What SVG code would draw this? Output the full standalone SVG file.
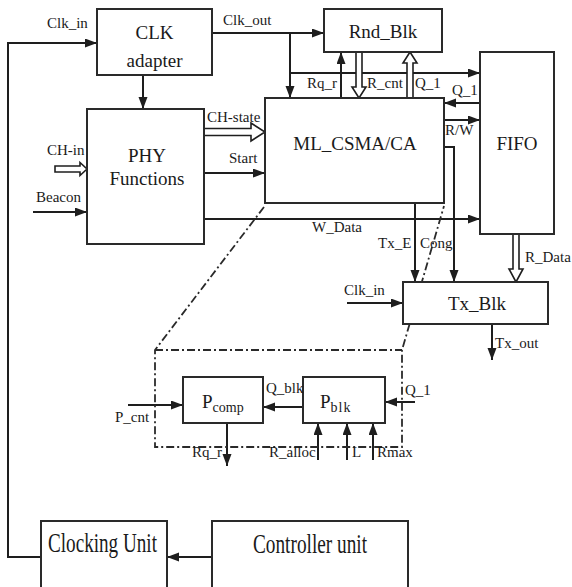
<svg xmlns="http://www.w3.org/2000/svg" width="572" height="587" viewBox="0 0 572 587">
<style>
.box{fill:#fff;stroke:#2a2a2a;stroke-width:2}
.ln{fill:none;stroke:#1e1e1e;stroke-width:2}
.hol{fill:#fff;stroke:#1e1e1e;stroke-width:1.6;stroke-linejoin:miter}
.dd{fill:none;stroke:#2a2a2a;stroke-width:1.8;stroke-dasharray:8,3,2,3}
text{font-family:"Liberation Serif","Times New Roman",serif;fill:#1a1a1a}
.lb{font-size:15px}
.big{font-size:19px}
.huge{font-size:28px}
</style>
<defs>
<marker id="ah" markerUnits="userSpaceOnUse" markerWidth="13" markerHeight="10" refX="12" refY="4.5" orient="auto">
<path d="M0,0 L12,4.5 L0,9 z" fill="#1e1e1e"/>
</marker>
</defs>
<g id="connectors">
<path class="ln" d="M41,557 H8 V43 H97" marker-end="url(#ah)"/>
<path class="ln" d="M212,33 H324" marker-end="url(#ah)"/>
<path class="ln" d="M290,33 V98" marker-end="url(#ah)"/>
<path class="ln" d="M290,73 H480" marker-end="url(#ah)"/>
<path class="ln" d="M143,75 V109" marker-end="url(#ah)"/>
<path class="ln" d="M341,98 V52" marker-end="url(#ah)"/>
<polygon class="hol" points="356,52 362,52 362,87 366,87 359,98 352,87 356,87"/>
<polygon class="hol" points="407,98 413,98 413,63 417,63 410,52 403,63 407,63"/>
<path class="ln" d="M480,103 H444" marker-end="url(#ah)"/>
<path class="ln" d="M444,120 H480" marker-end="url(#ah)"/>
<path class="ln" d="M444,147 H454 V282" marker-end="url(#ah)"/>
<path class="ln" d="M415,203 V282" marker-end="url(#ah)"/>
<path class="ln" d="M204,219 H480" marker-end="url(#ah)"/>
<polygon class="hol" points="513,234 519,234 519,269 523,269 516,282 509,269 513,269"/>
<path class="ln" d="M347,303 H403" marker-end="url(#ah)"/>
<path class="ln" d="M492,324 V360" marker-end="url(#ah)"/>
<polygon class="hol" points="204,128.5 251,128.5 251,123 265,132 251,141 251,135.5 204,135.5"/>
<path class="ln" d="M204,173 H265" marker-end="url(#ah)"/>
<polygon class="hol" points="55,166 80,166 80,162.5 87,169 80,175.5 80,172 55,172"/>
<path class="ln" d="M33,212 H87" marker-end="url(#ah)"/>
<path class="ln" d="M212,557 H167" marker-end="url(#ah)"/>
<path class="ln" d="M128,405 H183" marker-end="url(#ah)"/>
<path class="ln" d="M303,407 H263" marker-end="url(#ah)"/>
<path class="ln" d="M415,402 H385" marker-end="url(#ah)"/>
<path class="ln" d="M227,423 V466" marker-end="url(#ah)"/>
<path class="ln" d="M318,460 V423" marker-end="url(#ah)"/>
<path class="ln" d="M347,460 V423" marker-end="url(#ah)"/>
<path class="ln" d="M373,460 V423" marker-end="url(#ah)"/>
<path class="dd" d="M264,207 L155,350 V447 H402 V350 L444,206"/>
<path class="dd" d="M155,350 H402"/>
</g>
<g id="clk_adapter">
<rect class="box" x="97" y="9" width="115" height="66"/>
<text class="big" x="154.5" y="39" text-anchor="middle">CLK</text>
<text class="big" x="154.5" y="67" text-anchor="middle">adapter</text>
</g>
<g id="rnd_blk">
<rect class="box" x="324" y="9" width="118" height="43"/>
<text class="big" x="383" y="38" text-anchor="middle">Rnd_Blk</text>
</g>
<g id="phy">
<rect class="box" x="87" y="109" width="117" height="135"/>
<text class="big" x="147" y="162" text-anchor="middle">PHY</text>
<text class="big" x="147" y="185" text-anchor="middle">Functions</text>
</g>
<g id="ml_csma">
<rect class="box" x="265" y="98" width="179" height="105"/>
<text class="big" x="355" y="150" text-anchor="middle">ML_CSMA/CA</text>
</g>
<g id="fifo">
<rect class="box" x="480" y="52" width="74" height="182"/>
<text class="big" x="517" y="150" text-anchor="middle">FIFO</text>
</g>
<g id="tx_blk">
<rect class="box" x="403" y="282" width="145" height="42"/>
<text class="big" x="477" y="310" text-anchor="middle">Tx_Blk</text>
</g>
<g id="p_comp">
<rect class="box" x="183" y="377" width="80" height="46"/>
<text class="big" x="202" y="408">P<tspan font-size="14" dy="4">comp</tspan></text>
</g>
<g id="p_blk">
<rect class="box" x="303" y="377" width="82" height="46"/>
<text class="big" x="320" y="408">P<tspan font-size="14" dy="4" letter-spacing="1">blk</tspan></text>
</g>
<g id="clocking_unit">
<rect class="box" x="41" y="521" width="126" height="90"/>
<text class="huge" x="102.5" y="552" text-anchor="middle" textLength="109" lengthAdjust="spacingAndGlyphs">Clocking Unit</text>
</g>
<g id="controller_unit">
<rect class="box" x="212" y="521" width="196" height="90"/>
<text class="huge" x="310" y="553" text-anchor="middle" textLength="114" lengthAdjust="spacingAndGlyphs">Controller unit</text>
</g>
<g id="labels">
<text class="lb" x="47" y="28">Clk_in</text>
<text class="lb" x="223" y="25">Clk_out</text>
<text class="lb" x="307" y="88">Rq_r</text>
<text class="lb" x="367" y="88">R_cnt</text>
<text class="lb" x="415" y="88">Q_1</text>
<text class="lb" x="452" y="95">Q_1</text>
<text class="lb" x="445" y="135">R/W</text>
<text class="lb" x="207" y="122">CH-state</text>
<text class="lb" x="229" y="163">Start</text>
<text class="lb" x="47" y="155">CH-in</text>
<text class="lb" x="36" y="202">Beacon</text>
<text class="lb" x="312" y="232">W_Data</text>
<text class="lb" x="378" y="248">Tx_E</text>
<text class="lb" x="420" y="248">Cong</text>
<text class="lb" x="525" y="262">R_Data</text>
<text class="lb" x="344" y="295">Clk_in</text>
<text class="lb" x="495" y="348">Tx_out</text>
<text class="lb" x="115" y="422">P_cnt</text>
<text class="lb" x="266" y="393">Q_blk</text>
<text class="lb" x="405" y="395">Q_1</text>
<text class="lb" x="192" y="457">Rq_r</text>
<text class="lb" x="269" y="457">R_alloc</text>
<text class="lb" x="352" y="457">L</text>
<text class="lb" x="377" y="457">Rmax</text>
</g>
</svg>
